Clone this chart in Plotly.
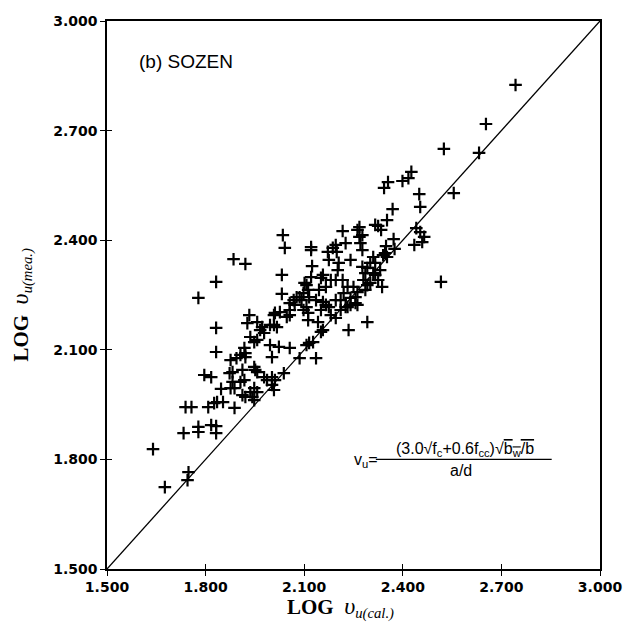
import plotly.graph_objects as go

# LOG v_u(cal.) values (x) and LOG v_u(mea.) values (y)
log_vu_cal = [
    2.743, 2.653, 2.525, 2.632, 2.555, 2.516, 2.337, 2.426, 2.417, 2.399,
    2.355, 2.343, 2.450, 2.453, 2.369, 2.352, 2.325, 2.334, 2.441, 2.453,
    2.465, 2.459, 2.435, 2.372, 2.349, 2.375, 2.340, 2.352, 2.268, 2.268,
    2.271, 2.277, 2.310, 2.316, 2.310, 2.262, 2.292, 2.226, 2.235, 2.217,
    2.226, 2.196, 2.199, 2.172, 2.175, 2.121, 2.121, 2.035, 2.041, 2.124,
    2.121, 2.032, 2.032, 2.205, 2.202, 2.241, 2.277, 2.286, 2.280, 2.157,
    2.181, 2.166, 2.101, 2.112, 2.098, 2.217, 2.232, 2.220, 2.250, 2.262,
    2.256, 2.292, 2.301, 2.077, 2.145, 2.086, 1.885, 1.921, 1.832, 1.778,
    1.933, 2.011, 2.026, 2.056, 2.071, 2.092, 2.107, 2.115, 2.107, 1.832,
    1.832, 1.796, 1.817, 1.847, 1.739, 1.757, 1.808, 1.826, 1.835, 1.853,
    1.888, 1.733, 1.778, 1.778, 1.817, 1.832, 1.832, 1.640, 1.748, 1.745,
    1.676, 1.957, 1.966, 1.978, 2.008, 2.008, 2.017, 2.056, 2.098, 2.112,
    2.112, 1.936, 1.948, 1.957, 1.918, 1.921, 1.906, 1.876, 1.894, 1.921,
    1.873, 1.882, 1.912, 1.948, 1.951, 1.957, 1.996, 2.023, 2.056, 2.002,
    2.038, 1.978, 1.987, 2.002, 2.011, 2.002, 2.008, 1.882, 1.906, 1.918,
    1.876, 1.888, 1.912, 1.921, 1.936, 1.948, 1.957, 1.942, 1.948, 2.086,
    2.115, 2.127, 2.136, 2.157, 2.107, 1.927, 1.996, 2.142, 2.151, 2.136,
    2.166, 2.196, 2.211, 2.181, 2.241, 2.151, 2.196, 2.151, 2.196, 2.256,
    2.175, 2.232, 2.157, 2.068, 2.056, 2.047, 1.972, 2.211, 2.241, 2.286,
    2.301, 2.262, 2.277, 2.316, 2.187, 2.346, 2.316, 2.325, 2.292, 2.331,
]
log_vu_mea = [
    2.825, 2.718, 2.650, 2.639, 2.529, 2.286, 2.272, 2.587, 2.570, 2.562,
    2.559, 2.543, 2.526, 2.491, 2.485, 2.455, 2.439, 2.428, 2.433, 2.422,
    2.409, 2.395, 2.387, 2.403, 2.384, 2.376, 2.359, 2.354, 2.436, 2.409,
    2.392, 2.373, 2.354, 2.338, 2.310, 2.223, 2.176, 2.217, 2.154, 2.425,
    2.392, 2.387, 2.368, 2.368, 2.346, 2.381, 2.373, 2.414, 2.379, 2.329,
    2.299, 2.305, 2.253, 2.338, 2.318, 2.346, 2.327, 2.310, 2.291, 2.305,
    2.291, 2.272, 2.283, 2.264, 2.255, 2.291, 2.272, 2.255, 2.272, 2.258,
    2.244, 2.324, 2.338, 2.244, 2.264, 2.244, 2.348, 2.335, 2.286, 2.242,
    2.195, 2.201, 2.203, 2.228, 2.223, 2.236, 2.277, 2.244, 2.217, 2.160,
    2.094, 2.031, 2.025, 1.993, 1.943, 1.943, 1.943, 1.954, 1.957, 1.957,
    1.941, 1.872, 1.889, 1.875, 1.894, 1.891, 1.872, 1.828, 1.765, 1.743,
    1.724, 2.176, 2.154, 2.146, 2.195, 2.168, 2.162, 2.195, 2.209, 2.201,
    2.181, 2.135, 2.121, 2.127, 2.105, 2.091, 2.086, 2.072, 2.077, 2.080,
    2.036, 2.039, 2.045, 2.053, 2.045, 2.039, 2.113, 2.108, 2.105, 2.080,
    2.036, 2.025, 2.017, 2.025, 2.017, 2.004, 1.990, 2.012, 2.012, 2.017,
    1.995, 1.995, 1.976, 1.971, 1.984, 1.995, 1.984, 1.971, 1.962, 2.077,
    2.119, 2.121, 2.077, 2.154, 2.113, 2.173, 2.168, 2.176, 2.149, 2.236,
    2.223, 2.236, 2.209, 2.195, 2.223, 2.209, 2.187, 2.297, 2.291, 2.228,
    2.217, 2.217, 2.231, 2.236, 2.209, 2.190, 2.162, 2.236, 2.242, 2.264,
    2.283, 2.428, 2.414, 2.442, 2.379, 2.365, 2.305, 2.291, 2.277, 2.318,
]
equality_line = [1.5, 3.0]
tick_values = [1.5, 1.8, 2.1, 2.4, 2.7, 3.0]
tick_labels = ["1.500", "1.800", "2.100", "2.400", "2.700", "3.000"]

fig = go.Figure()
fig.add_trace(go.Scatter(
    x=equality_line, y=equality_line, mode="lines",
    line=dict(color="black", width=1.3), showlegend=False, hoverinfo="skip"))
fig.add_trace(go.Scatter(
    x=log_vu_cal, y=log_vu_mea, mode="markers",
    marker=dict(symbol="cross-thin", size=9, color="black",
                line=dict(width=2.2, color="black")),
    showlegend=False))

tickfont = dict(family="DejaVu Sans", size=14, color="black", weight="bold")
axis_common = dict(range=[1.5, 3.0], tickvals=tick_values,
                   ticktext=["<b>%s</b>" % t for t in tick_labels],
                   showgrid=False, zeroline=False, showline=True, linecolor="black",
                   linewidth=1.5, mirror=True, ticks="outside", ticklen=5,
                   tickwidth=1.3, tickcolor="black", tickfont=tickfont)
fig.update_layout(
    width=634, height=623,
    margin=dict(l=107, r=25, t=21, b=54),
    paper_bgcolor="white", plot_bgcolor="white",
    xaxis=dict(axis_common, ticklabelstandoff=-1),
    yaxis=axis_common,
    xaxis2=dict(overlaying="x", range=[1.5, 3.0], tickvals=tick_values, side="bottom",
                anchor="y", showticklabels=False, ticks="inside", ticklen=5,
                tickwidth=1.3, tickcolor="black", showgrid=False, zeroline=False,
                showline=False),
    yaxis2=dict(overlaying="y", range=[1.5, 3.0], tickvals=tick_values, side="left",
                anchor="x", showticklabels=False, ticks="inside", ticklen=5,
                tickwidth=1.3, tickcolor="black", showgrid=False, zeroline=False,
                showline=False),
)
# invisible trace to activate the secondary (inside-tick) axes
fig.add_trace(go.Scatter(x=[None], y=[None], xaxis="x2", yaxis="y2",
                         showlegend=False, hoverinfo="skip"))

title_font = dict(family="Liberation Serif", size=21, color="black")
fig.add_annotation(xref="paper", yref="paper", x=0.474, y=-0.071,
                   text="<b>LOG</b>  <i><span style='font-size:24px'>υ</span><sub>u(cal.)</sub></i>",
                   showarrow=False, font=title_font, xanchor="center", yanchor="middle")
fig.add_annotation(xref="paper", yref="paper", x=-0.173, y=0.482,
                   text="<b>LOG</b>  <i><span style='font-size:24px'>υ</span><sub>u(mea.)</sub></i>",
                   showarrow=False, font=title_font, textangle=-90,
                   xanchor="center", yanchor="middle")

fig.add_annotation(xref="x", yref="y", x=1.590, y=2.888, text="(b) SOZEN",
                   showarrow=False, xanchor="left", yanchor="middle",
                   font=dict(family="Liberation Sans", size=19, color="black"))

formula_font = dict(family="Liberation Sans", size=16, color="black")
fig.add_annotation(xref="x", yref="y", x=2.244, y=1.797, text="v<sub>u</sub>=",
                   showarrow=False, xanchor="left", yanchor="middle", font=formula_font)
fig.add_annotation(xref="x", yref="y", x=2.590, y=1.828,
                   text="(3.0√f<sub>c</sub>+0.6f<sub>cc</sub>)√<span style='text-decoration:overline'>b<sub>w</sub>/b</span>",
                   showarrow=False, xanchor="center", yanchor="middle", font=formula_font)
fig.add_annotation(xref="x", yref="y", x=2.578, y=1.770, text="a/d",
                   showarrow=False, xanchor="center", yanchor="middle", font=formula_font)
fig.add_shape(type="line", xref="x", yref="y", x0=2.318, x1=2.853, y0=1.800, y1=1.800,
              line=dict(color="black", width=1.3))

fig.write_html("out.html")
